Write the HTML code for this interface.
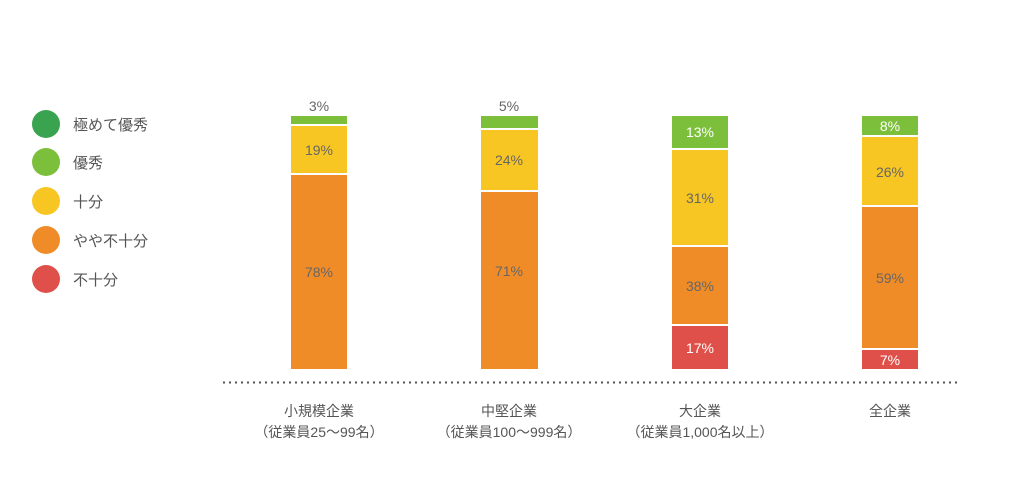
<!DOCTYPE html>
<html><head><meta charset="utf-8"><style>
body{margin:0;width:1024px;height:491px;background:#fff;overflow:hidden}
svg text{font-family:"Liberation Sans","Noto Sans CJK JP",sans-serif}
</style></head><body>
<svg width="1024" height="491" xmlns="http://www.w3.org/2000/svg">
<g font-size="15" fill="#555">
<circle cx="46" cy="124" r="14" fill="#3aa350"/><text x="73" y="130">極めて優秀</text>
<circle cx="46" cy="162" r="14" fill="#7cbf3a"/><text x="73" y="168">優秀</text>
<circle cx="46" cy="201" r="14" fill="#f7c623"/><text x="73" y="207">十分</text>
<circle cx="46" cy="240" r="14" fill="#f08c28"/><text x="73" y="246">やや不十分</text>
<circle cx="46" cy="279" r="14" fill="#e0504a"/><text x="73" y="285">不十分</text>
</g>
<g>
<rect x="291" y="116" width="56" height="8" fill="#7cbf3a"/>
<rect x="291" y="126" width="56" height="47" fill="#f7c623"/>
<rect x="291" y="175" width="56" height="194" fill="#f08c28"/>
<rect x="481" y="116" width="57" height="12" fill="#7cbf3a"/>
<rect x="481" y="130" width="57" height="60" fill="#f7c623"/>
<rect x="481" y="192" width="57" height="177" fill="#f08c28"/>
<rect x="672" y="116" width="56" height="32" fill="#7cbf3a"/>
<rect x="672" y="150" width="56" height="95" fill="#f7c623"/>
<rect x="672" y="247" width="56" height="77" fill="#f08c28"/>
<rect x="672" y="326" width="56" height="43" fill="#e0504a"/>
<rect x="862" y="116" width="56" height="19" fill="#7cbf3a"/>
<rect x="862" y="137" width="56" height="68" fill="#f7c623"/>
<rect x="862" y="207" width="56" height="141" fill="#f08c28"/>
<rect x="862" y="350" width="56" height="19" fill="#e0504a"/>
</g>
<g font-size="14" text-anchor="middle" fill="#666">
<text x="319" y="111">3%</text><text x="319" y="155">19%</text><text x="319" y="277">78%</text>
<text x="509" y="111">5%</text><text x="509" y="165">24%</text><text x="509" y="276">71%</text>
<text x="700" y="203">31%</text><text x="700" y="291">38%</text>
<text x="890" y="177">26%</text><text x="890" y="283">59%</text>
<g fill="#fff"><text x="700" y="137">13%</text><text x="700" y="353">17%</text><text x="890" y="131">8%</text><text x="890" y="365">7%</text></g>
</g>
<line x1="223" y1="382.5" x2="958" y2="382.5" stroke="#555" stroke-width="2" stroke-dasharray="2,4"/>
<g font-size="14" text-anchor="middle" fill="#555">
<text x="319" y="416">小規模企業</text><text x="319" y="437">（従業員25〜99名）</text>
<text x="509" y="416">中堅企業</text><text x="509" y="437">（従業員100〜999名）</text>
<text x="700" y="416">大企業</text><text x="700" y="437">（従業員1,000名以上）</text>
<text x="890" y="416">全企業</text>
</g>
</svg>
</body></html>
